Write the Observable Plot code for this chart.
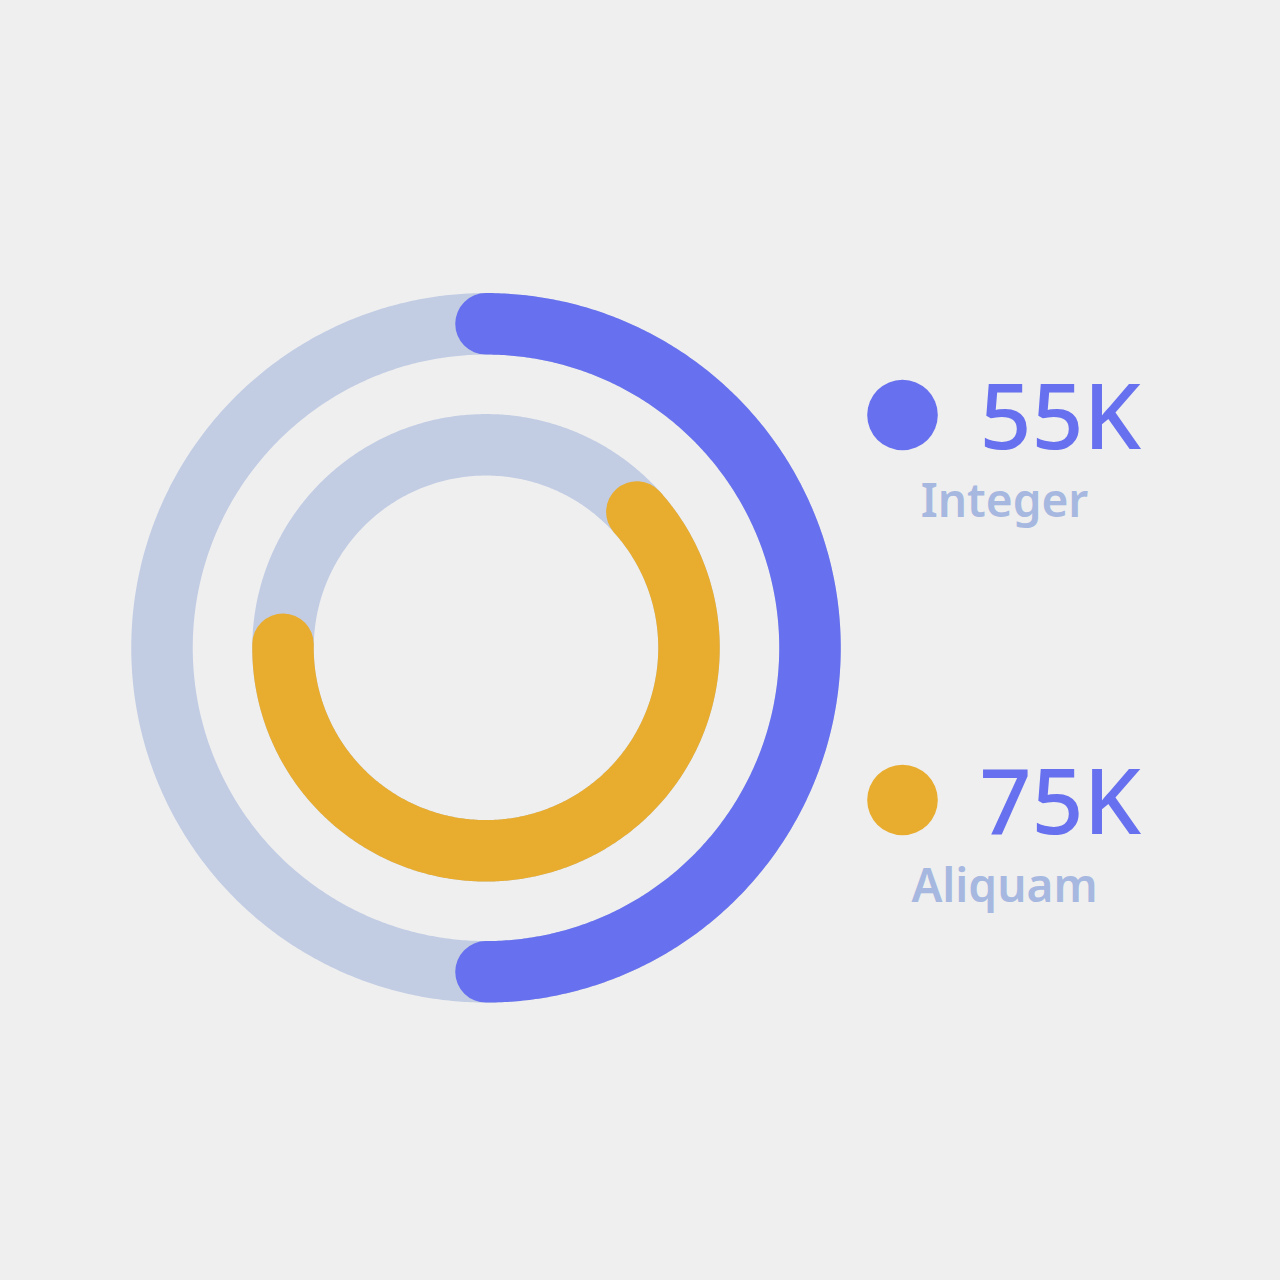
<!DOCTYPE html>
<html>
<head>
<meta charset="utf-8">
<script src="https://cdn.jsdelivr.net/npm/d3@7"></script>
<script src="https://cdn.jsdelivr.net/npm/@observablehq/plot@0.6"></script>
<style>
  html, body { margin: 0; padding: 0; background: #efefef; }
  #chart { width: 1280px; height: 1280px; }
</style>
</head>
<body>
<div id="chart"></div>
<script>
// ---- data ----
const series = ["Integer", "Aliquam"];
const valueLabels = ["55K", "75K"];
const arcStartDeg = [0, 48];     // clockwise from 12 o'clock
const arcEndDeg = [180, 271];
const seriesColors = ["#6770ee", "#e8ac2f"];

// ---- layout ----
const W = 1280, H = 1280;
const cx = 485.5, cy = 647.3;
const ringRadius = [324, 203];
const ringWidth = 61.5;
const trackColor = "#c2cde4";
const labelColor = "#a6b8e0";
const legend = { dotX: 902, dotY: [414.5, 799.5], dotR: 35.3, textX: 979, valueFont: 91, valueShift: 5, labelX: 1004, labelFont: 46, labelShift: 87 };

function arcPoints(i, a0, a1) {
  const r = ringRadius[i];
  const n = Math.max(2, Math.ceil(Math.abs(a1 - a0) / 0.5));
  return d3.range(n + 1).map(k => {
    const a = (a0 + (a1 - a0) * k / n) * Math.PI / 180;
    return { s: series[i], x: r * Math.sin(a), y: -r * Math.cos(a) };
  });
}

const tracks = series.flatMap((s, i) => arcPoints(i, 0, 360));
const arcs = series.flatMap((s, i) => arcPoints(i, arcStartDeg[i], arcEndDeg[i]));

const legendRows = series.map((s, i) => ({
  s, label: valueLabels[i], color: seriesColors[i],
  x: legend.dotX - cx, y: legend.dotY[i] - cy
}));

const chart = Plot.plot({
  width: W, height: H,
  margin: 0,
  style: { background: "#efefef", fontFamily: "'Noto Sans', sans-serif", overflow: "visible" },
  x: { domain: [-cx, W - cx], range: [0, W], axis: null },
  y: { domain: [-cy, H - cy], range: [0, H], axis: null },
  color: { domain: series, range: seriesColors },
  marks: [
    Plot.line(tracks, { x: "x", y: "y", z: "s", stroke: trackColor, strokeWidth: ringWidth, curve: "linear" }),
    Plot.line(arcs, { x: "x", y: "y", z: "s", stroke: "s", strokeWidth: ringWidth, strokeLinecap: "round", strokeLinejoin: "round", curve: "linear" }),
    Plot.dot(legendRows, { x: "x", y: "y", r: legend.dotR, fill: "color", stroke: null }),
    Plot.text(legendRows, { x: "x", y: "y", text: "label", fill: "#6770ee", fontSize: legend.valueFont, fontWeight: 500, textAnchor: "start", dx: legend.textX - legend.dotX, dy: legend.valueShift }),
    Plot.text(legendRows, { x: "x", y: "y", text: "s", fill: labelColor, fontSize: legend.labelFont, fontWeight: 600, textAnchor: "middle", dx: legend.labelX - legend.dotX, dy: legend.labelShift })
  ]
});
document.getElementById("chart").appendChild(chart);
</script>
</body>
</html>
